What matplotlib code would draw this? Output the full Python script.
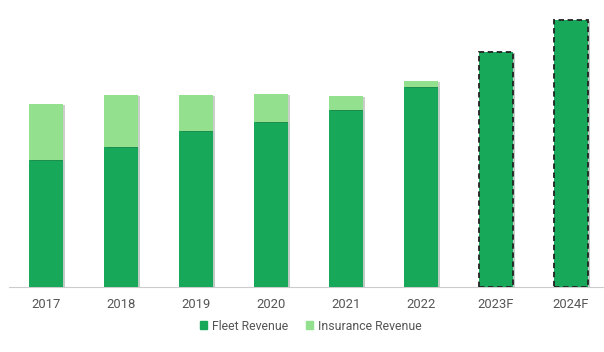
import matplotlib.pyplot as plt
import matplotlib.patheffects as pe
from matplotlib.patches import Patch

years = ["2017", "2018", "2019", "2020", "2021", "2022", "2023F", "2024F"]
fleet = [127, 140, 156, 165, 177, 200, 235, 267]
insurance = [56, 52, 36, 28, 14, 6, 0, 0]
forecast = [False, False, False, False, False, False, True, True]

dark = "#17a85a"
light = "#93e18f"

plt.rcParams["font.family"] = ["Roboto", "DejaVu Sans"]
fig = plt.figure(figsize=(6.04, 3.52), dpi=100)
ax = fig.add_axes([8.5 / 604, 1 - 287 / 352, 600 / 604, 287 / 352])

x = list(range(len(years)))
shadow = [pe.SimplePatchShadow(offset=(1.5, -0.5), alpha=0.25), pe.Normal()]
for i in x:
    if forecast[i]:
        b = ax.bar(i, fleet[i], width=0.45, color=dark, edgecolor="#222222",
                   linestyle=(0, (3, 2)), linewidth=1.3, zorder=3)
    else:
        b = ax.bar(i, fleet[i], width=0.45, color=dark, linewidth=0, zorder=3)
    b[0].set_path_effects(shadow)
    if insurance[i] > 0:
        t = ax.bar(i, insurance[i], bottom=fleet[i], width=0.45, color=light,
                   linewidth=0, zorder=3)
        t[0].set_path_effects(shadow)

ax.set_xlim(-0.5, 7.5)
ax.set_ylim(0, 287)
ax.set_xticks(x)
ax.set_xticklabels(years, fontsize=9.4, color="#555555")
ax.tick_params(axis="x", length=0, pad=8)
ax.set_yticks([])
for s in ["top", "right", "left"]:
    ax.spines[s].set_visible(False)
ax.spines["bottom"].set_color("#cccccc")

handles = [Patch(color=dark, label="Fleet Revenue"),
           Patch(color=light, label="Insurance Revenue")]
fig.legend(handles=handles, loc="center", bbox_to_anchor=(311 / 604, 1 - 326 / 352),
           ncol=2, frameon=False, fontsize=8.8, handlelength=0.55, handleheight=0.55,
           handletextpad=0.45, columnspacing=1.4, labelcolor="#555555")

fig.savefig("out.png", dpi=100)
